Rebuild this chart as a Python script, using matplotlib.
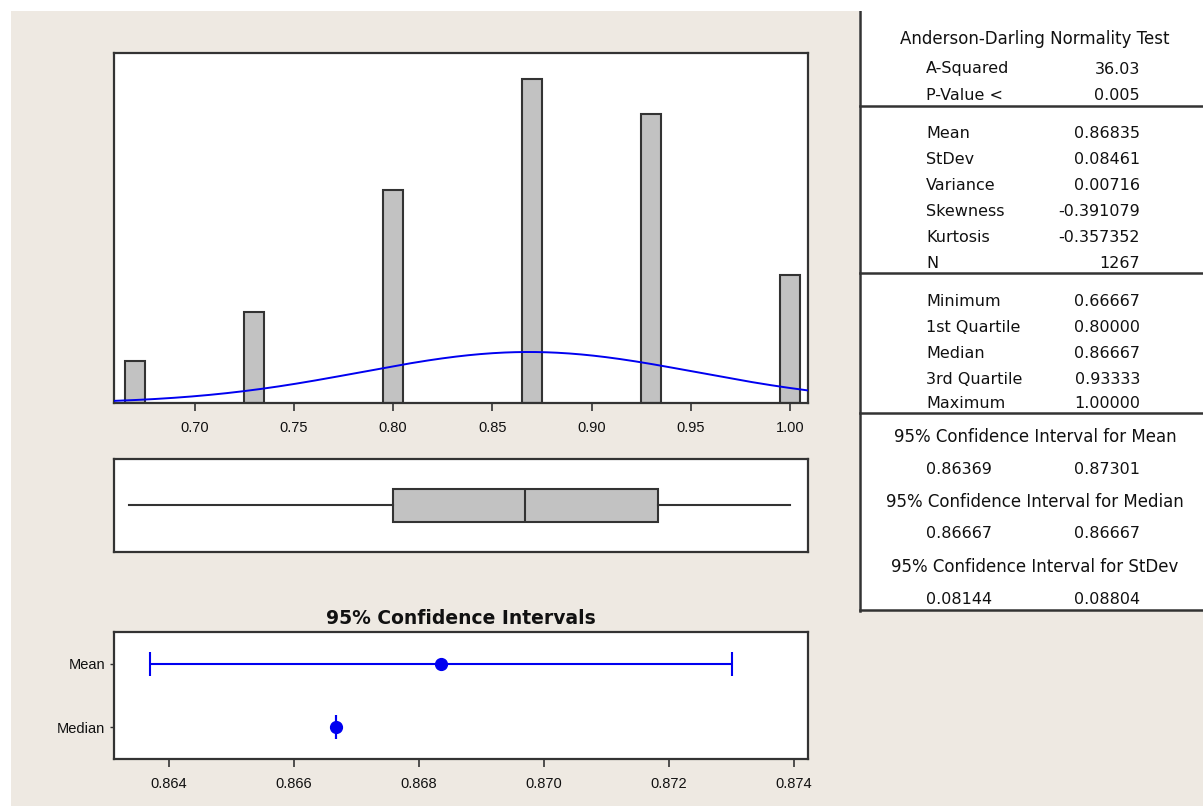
import numpy as np
import matplotlib
matplotlib.use("Agg")
import matplotlib.pyplot as plt
from matplotlib import font_manager
from matplotlib.patches import Rectangle

# ---------------- data ----------------
bin_centers = [0.67, 0.73, 0.80, 0.87, 0.93, 1.00]
bin_counts = [49, 106, 248, 378, 337, 149]
bin_width = 0.01
hist_ticks = [0.70, 0.75, 0.80, 0.85, 0.90, 0.95, 1.00]
n_obs = 1267
mean_val = 0.86835
stdev_val = 0.08461
box_min, box_q1, box_med, box_q3, box_max = 0.66667, 0.80000, 0.86667, 0.93333, 1.00000

ci_labels = ["Mean", "Median"]
ci_center = [0.86835, 0.86667]
ci_low = [0.86369, 0.86667]
ci_high = [0.87301, 0.86667]
ci_ticks = [0.864, 0.866, 0.868, 0.870, 0.872, 0.874]

ad_title = "Anderson-Darling Normality Test"
ad_labels = ["A-Squared", "P-Value <"]
ad_values = ["36.03", "0.005"]
moment_labels = ["Mean", "StDev", "Variance", "Skewness", "Kurtosis", "N"]
moment_values = ["0.86835", "0.08461", "0.00716", "-0.391079", "-0.357352", "1267"]
quant_labels = ["Minimum", "1st Quartile", "Median", "3rd Quartile", "Maximum"]
quant_values = ["0.66667", "0.80000", "0.86667", "0.93333", "1.00000"]
ci_titles = ["95% Confidence Interval for Mean",
             "95% Confidence Interval for Median",
             "95% Confidence Interval for StDev"]
ci_pairs = [("0.86369", "0.87301"), ("0.86667", "0.86667"), ("0.08144", "0.08804")]

# ---------------- style ----------------
W, H = 1203, 806
BEIGE = "#EEE9E2"
FRAME = "#333333"
BLUE = "#0000F0"
GRAY = "#C2C2C2"
TXT = "#111111"

names = {f.name for f in font_manager.fontManager.ttflist}
if "Liberation Sans Narrow" in names:
    NARROW, NSIZE = "Liberation Sans Narrow", 11.5
elif "Liberation Sans" in names:
    NARROW, NSIZE = "Liberation Sans", 10.5
else:
    NARROW, NSIZE = "DejaVu Sans", 9.5

plt.rcParams["font.family"] = ["DejaVu Sans"]


def rect(l, t, r, b):
    return [l / W, 1 - b / H, (r - l) / W, (b - t) / H]


fig = plt.figure(figsize=(W / 100, H / 100), dpi=100, facecolor=BEIGE)
# white margins top/left
fig.patches.append(Rectangle((0, 0), 11 / W, 1, transform=fig.transFigure,
                             facecolor="white", edgecolor="none", zorder=0))
fig.patches.append(Rectangle((0, 1 - 11 / H), 1, 11 / H, transform=fig.transFigure,
                             facecolor="white", edgecolor="none", zorder=0))


def style_frame(ax):
    for s in ax.spines.values():
        s.set_color(FRAME)
        s.set_linewidth(1.6)


# ---------------- histogram ----------------
xlo, xhi = 0.65908, 1.00882
axh = fig.add_axes(rect(113.5, 53.3, 807.5, 403.3))
axh.set_facecolor("white")
axh.bar(bin_centers, bin_counts, width=bin_width, color=GRAY,
        edgecolor=FRAME, linewidth=1.5, zorder=2)
xs = np.linspace(xlo, xhi, 400)
pdf = np.exp(-0.5 * ((xs - mean_val) / stdev_val) ** 2) / (stdev_val * np.sqrt(2 * np.pi))
axh.plot(xs, n_obs * bin_width * pdf, color=BLUE, lw=1.4, zorder=3)
axh.set_xlim(xlo, xhi)
axh.set_ylim(0, 407.6)
axh.set_yticks([])
axh.set_xticks(hist_ticks)
axh.set_xticklabels([f"{t:.2f}" for t in hist_ticks], family=NARROW,
                    fontsize=NSIZE, color=TXT)
axh.tick_params(axis="x", direction="out", length=6, width=1.2, color=FRAME, pad=7)
style_frame(axh)

# ---------------- boxplot ----------------
axb = fig.add_axes(rect(113.5, 459, 807.5, 551.7))
axb.set_facecolor("white")
stats = [dict(whislo=box_min, q1=box_q1, med=box_med, q3=box_q3, whishi=box_max, fliers=[])]
axb.bxp(stats, positions=[1], widths=0.7, vert=False, patch_artist=True,
        showcaps=False,
        boxprops=dict(facecolor=GRAY, edgecolor=FRAME, linewidth=1.5),
        medianprops=dict(color=FRAME, linewidth=1.5),
        whiskerprops=dict(color=FRAME, linewidth=1.5))
axb.set_xlim(xlo, xhi)
axb.set_ylim(0, 2)
axb.set_xticks([])
axb.set_yticks([])
style_frame(axb)

# ---------------- confidence intervals ----------------
axc = fig.add_axes(rect(113.5, 631.7, 807.5, 759.3))
axc.set_facecolor("white")
for i in range(len(ci_labels)):
    axc.errorbar([ci_center[i]], [i],
                 xerr=[[ci_center[i] - ci_low[i]], [ci_high[i] - ci_center[i]]],
                 fmt="o", color=BLUE, ms=8.5, lw=1.5, capsize=8.3, capthick=1.5)
axc.set_xlim(0.863112, 0.874221)
axc.set_ylim(1.5, -0.5)
axc.set_xticks(ci_ticks)
axc.set_xticklabels([f"{t:.3f}" for t in ci_ticks], family=NARROW,
                    fontsize=NSIZE, color=TXT)
axc.set_yticks(range(len(ci_labels)))
axc.set_yticklabels(ci_labels, family=NARROW, fontsize=NSIZE, color=TXT)
axc.tick_params(axis="x", direction="out", length=6, width=1.2, color=FRAME, pad=7)
axc.tick_params(axis="y", direction="out", length=3, width=1.0, color=FRAME, pad=3)
style_frame(axc)
fig.text(460.5 / W, 1 - 619 / H, "95% Confidence Intervals", ha="center", va="center",
         fontsize=13.5, fontweight="bold", color=TXT)

# ---------------- summary table ----------------
axt = fig.add_axes(rect(859, 0, 1203, 611))
axt.set_xlim(859, 1203)
axt.set_ylim(611, 0)
axt.set_facecolor("white")
axt.set_xticks([])
axt.set_yticks([])
for s in axt.spines.values():
    s.set_visible(False)
axt.plot([860, 860], [0, 611], color=FRAME, lw=1.8, clip_on=False)
axt.plot([860, 1203], [610, 610], color=FRAME, lw=1.8, clip_on=False)

TS = 11.5
LX, RX, CX = 926, 1140, 1035


def row(label, value, y):
    axt.text(LX, y, label, ha="left", va="center", fontsize=TS, color=TXT)
    axt.text(RX, y, value, ha="right", va="center", fontsize=TS, color=TXT)


axt.text(CX, 39, ad_title, ha="center", va="center", fontsize=12, color=TXT)
ad_y = [69, 96]
for lab, val, y in zip(ad_labels, ad_values, ad_y):
    row(lab, val, y)
axt.plot([860, 1203], [106, 106], color=FRAME, lw=1.8)

mom_y = [134, 160, 186, 212, 238, 263]
for lab, val, y in zip(moment_labels, moment_values, mom_y):
    row(lab, val, y)
axt.plot([860, 1203], [273, 273], color=FRAME, lw=1.8)

q_y = [301, 327, 353, 379, 404]
for lab, val, y in zip(quant_labels, quant_values, q_y):
    row(lab, val, y)
axt.plot([860, 1203], [413, 413], color=FRAME, lw=1.8)

title_y = [437, 502, 567]
pair_y = [469, 534, 599]
for t, (a, b), ty, py in zip(ci_titles, ci_pairs, title_y, pair_y):
    axt.text(CX, ty, t, ha="center", va="center", fontsize=12, color=TXT)
    row(a, b, py)

fig.savefig("out.png", dpi=100, facecolor=BEIGE)
